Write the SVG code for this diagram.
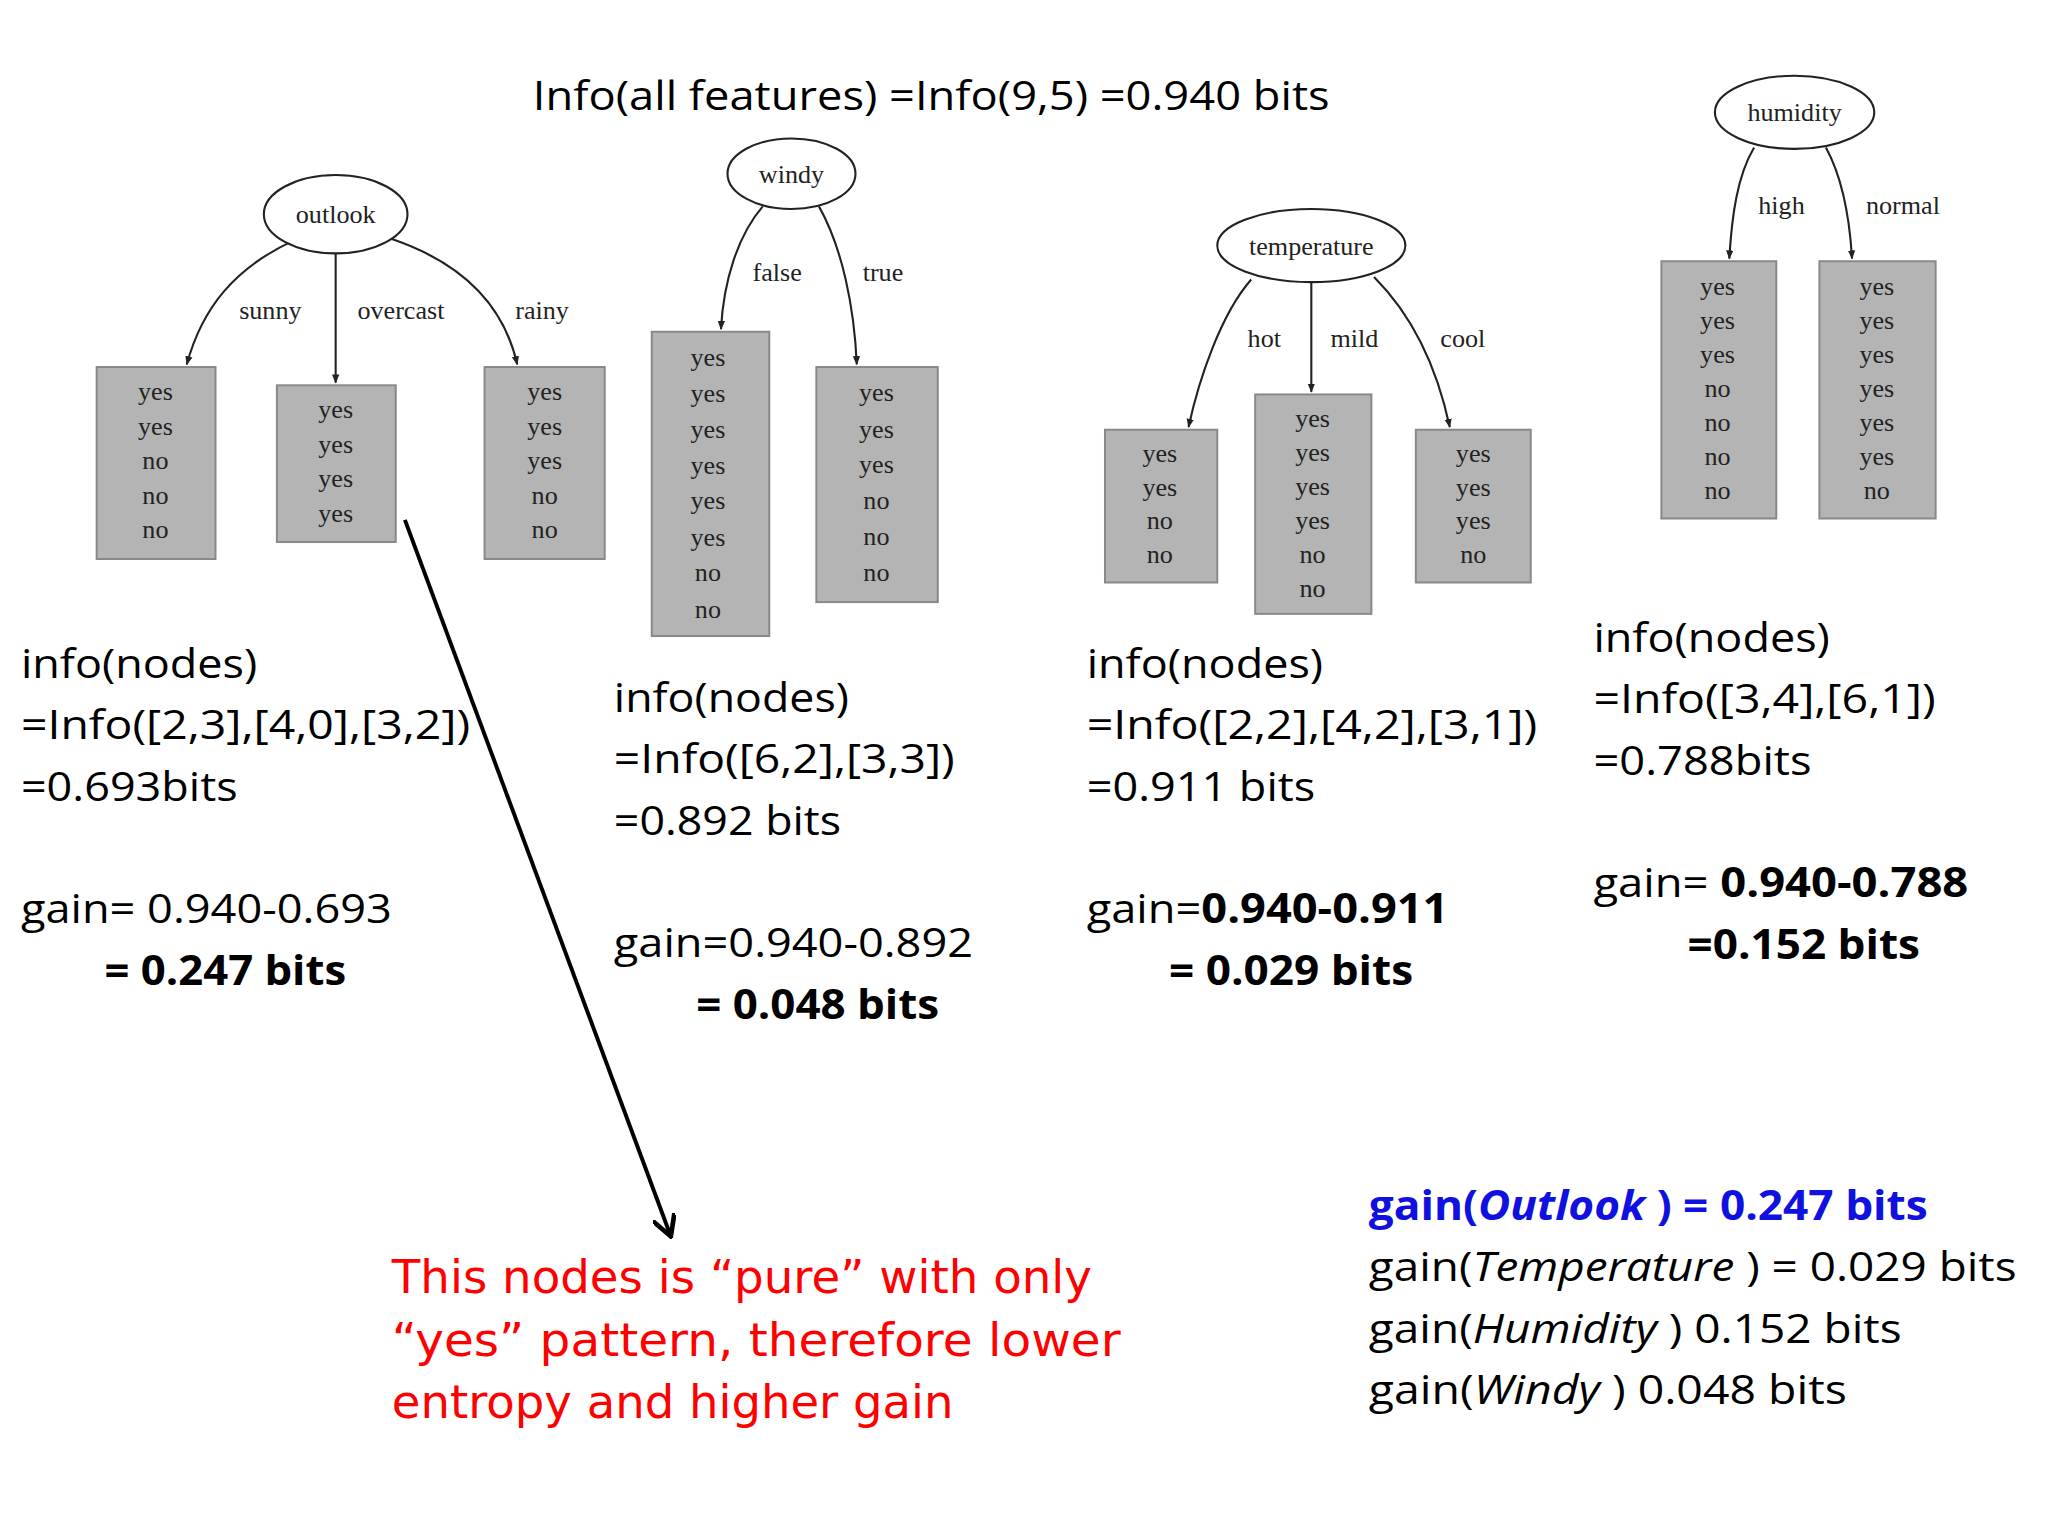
<svg xmlns="http://www.w3.org/2000/svg" width="2048" height="1536" viewBox="0 0 2048 1536">
<defs>
<marker id="ah" viewBox="0 0 10 10" refX="9" refY="5" markerWidth="7" markerHeight="7" orient="auto-start-reverse" markerUnits="userSpaceOnUse"><path d="M0,1 L10,5 L0,9 z" fill="#222"/></marker>
<marker id="ah2" viewBox="0 0 10 10" refX="8" refY="5" markerWidth="18" markerHeight="18" orient="auto" markerUnits="userSpaceOnUse"><path d="M0,0 L9,5 L0,10" fill="none" stroke="#000" stroke-width="2"/></marker>
</defs>
<style>
.ell{fill:#fff;stroke:#222;stroke-width:1.6}
.box{fill:#b4b4b4;stroke:#888;stroke-width:1.5}
.t{font-family:"Liberation Serif",serif;font-size:20px;fill:#222;text-anchor:middle}
.e{fill:none;stroke:#222;stroke-width:1.6}
.c{font-family:"Open Sans","Liberation Sans",sans-serif;font-size:31px;fill:#000}
.b{font-weight:bold}
.r{font-family:"DejaVu Sans",sans-serif;font-size:35px;fill:#ff0000}
.bl{fill:#1010e0;font-weight:bold}
</style>
<rect width="2048" height="1536" fill="#fff"/>
<g transform="scale(1.3061)">
<text class="c" x="408" y="84" textLength="610" lengthAdjust="spacingAndGlyphs">Info(all features) =Info(9,5) =0.940 bits</text>

<g id="connectors">
<path class="e" marker-end="url(#ah)" d="M225,184 C180,205 155,235 143,279"/>
<path class="e" marker-end="url(#ah)" d="M257,194 L257,293"/>
<path class="e" marker-end="url(#ah)" d="M300,183 C350,200 385,230 396,279"/>
<path class="e" marker-end="url(#ah)" d="M584,158 C565,180 554,215 552,252"/>
<path class="e" marker-end="url(#ah)" d="M627,158 C645,190 654,235 656,279"/>
<path class="e" marker-end="url(#ah)" d="M958,214 C935,240 918,290 910,327"/>
<path class="e" marker-end="url(#ah)" d="M1004,216 L1004,300"/>
<path class="e" marker-end="url(#ah)" d="M1052,212 C1080,240 1100,280 1110,327"/>
<path class="e" marker-end="url(#ah)" d="M1343,113 C1330,135 1326,165 1324,198"/>
<path class="e" marker-end="url(#ah)" d="M1398,113 C1410,135 1416,165 1418,198"/>
<path marker-end="url(#ah2)" d="M310,398 L513,945" stroke="#000" stroke-width="3" fill="none"/>
</g>

<g id="outlook"><ellipse class="ell" cx="257" cy="164" rx="55" ry="30"/><text class="t" x="257" y="171">outlook</text>
<text class="t" x="207" y="244">sunny</text><text class="t" x="307" y="244">overcast</text><text class="t" x="415" y="244">rainy</text></g>
<g id="sunny"><rect class="box" x="74" y="281" width="91" height="147"/><text class="t" x="119" y="306">yes</text><text class="t" x="119" y="333">yes</text><text class="t" x="119" y="359">no</text><text class="t" x="119" y="386">no</text><text class="t" x="119" y="412">no</text></g>
<g id="overcast"><rect class="box" x="212" y="295" width="91" height="120"/><text class="t" x="257" y="320">yes</text><text class="t" x="257" y="347">yes</text><text class="t" x="257" y="373">yes</text><text class="t" x="257" y="400">yes</text></g>
<g id="rainy"><rect class="box" x="371" y="281" width="92" height="147"/><text class="t" x="417" y="306">yes</text><text class="t" x="417" y="333">yes</text><text class="t" x="417" y="359">yes</text><text class="t" x="417" y="386">no</text><text class="t" x="417" y="412">no</text></g>

<g id="windy"><ellipse class="ell" cx="606" cy="133" rx="49" ry="27"/><text class="t" x="606" y="140">windy</text>
<text class="t" x="595" y="215">false</text><text class="t" x="676" y="215">true</text></g>
<g id="false"><rect class="box" x="499" y="254" width="90" height="233"/>
<text class="t" x="542" y="280">yes</text><text class="t" x="542" y="308">yes</text><text class="t" x="542" y="335">yes</text><text class="t" x="542" y="363">yes</text><text class="t" x="542" y="390">yes</text><text class="t" x="542" y="418">yes</text><text class="t" x="542" y="445">no</text><text class="t" x="542" y="473">no</text></g>
<g id="true"><rect class="box" x="625" y="281" width="93" height="180"/>
<text class="t" x="671" y="307">yes</text><text class="t" x="671" y="335">yes</text><text class="t" x="671" y="362">yes</text><text class="t" x="671" y="390">no</text><text class="t" x="671" y="417">no</text><text class="t" x="671" y="445">no</text></g>

<g id="temperature"><ellipse class="ell" cx="1004" cy="188" rx="72" ry="28"/><text class="t" x="1004" y="195">temperature</text>
<text class="t" x="968" y="266">hot</text><text class="t" x="1037" y="266">mild</text><text class="t" x="1120" y="266">cool</text></g>
<g id="hot"><rect class="box" x="846" y="329" width="86" height="117"/><text class="t" x="888" y="354">yes</text><text class="t" x="888" y="380">yes</text><text class="t" x="888" y="405">no</text><text class="t" x="888" y="431">no</text></g>
<g id="mild"><rect class="box" x="961" y="302" width="89" height="168"/><text class="t" x="1005" y="327">yes</text><text class="t" x="1005" y="353">yes</text><text class="t" x="1005" y="379">yes</text><text class="t" x="1005" y="405">yes</text><text class="t" x="1005" y="431">no</text><text class="t" x="1005" y="457">no</text></g>
<g id="cool"><rect class="box" x="1084" y="329" width="88" height="117"/><text class="t" x="1128" y="354">yes</text><text class="t" x="1128" y="380">yes</text><text class="t" x="1128" y="405">yes</text><text class="t" x="1128" y="431">no</text></g>

<g id="humidity"><ellipse class="ell" cx="1374" cy="86" rx="61" ry="28"/><text class="t" x="1374" y="93">humidity</text>
<text class="t" x="1364" y="164">high</text><text class="t" x="1457" y="164">normal</text></g>
<g id="high"><rect class="box" x="1272" y="200" width="88" height="197"/><text class="t" x="1315" y="226">yes</text><text class="t" x="1315" y="252">yes</text><text class="t" x="1315" y="278">yes</text><text class="t" x="1315" y="304">no</text><text class="t" x="1315" y="330">no</text><text class="t" x="1315" y="356">no</text><text class="t" x="1315" y="382">no</text></g>
<g id="normal"><rect class="box" x="1393" y="200" width="89" height="197"/><text class="t" x="1437" y="226">yes</text><text class="t" x="1437" y="252">yes</text><text class="t" x="1437" y="278">yes</text><text class="t" x="1437" y="304">yes</text><text class="t" x="1437" y="330">yes</text><text class="t" x="1437" y="356">yes</text><text class="t" x="1437" y="382">no</text></g>

<g id="calc1">
<text class="c" x="16" y="519" textLength="181" lengthAdjust="spacingAndGlyphs">info(nodes)</text>
<text class="c" x="16" y="566" textLength="344" lengthAdjust="spacingAndGlyphs">=Info([2,3],[4,0],[3,2])</text>
<text class="c" x="16" y="613" textLength="166" lengthAdjust="spacingAndGlyphs">=0.693bits</text>
<text class="c" x="16" y="707" textLength="284" lengthAdjust="spacingAndGlyphs">gain= 0.940-0.693</text>
<text class="c b" x="80" y="754" textLength="185" lengthAdjust="spacingAndGlyphs">= 0.247 bits</text>
</g>
<g id="calc2">
<text class="c" x="470" y="545" textLength="180" lengthAdjust="spacingAndGlyphs">info(nodes)</text>
<text class="c" x="470" y="592" textLength="261" lengthAdjust="spacingAndGlyphs">=Info([6,2],[3,3])</text>
<text class="c" x="470" y="639" textLength="174" lengthAdjust="spacingAndGlyphs">=0.892 bits</text>
<text class="c" x="470" y="733" textLength="275" lengthAdjust="spacingAndGlyphs">gain=0.940-0.892</text>
<text class="c b" x="533" y="780" textLength="186" lengthAdjust="spacingAndGlyphs">= 0.048 bits</text>
</g>
<g id="calc3">
<text class="c" x="832" y="519" textLength="181" lengthAdjust="spacingAndGlyphs">info(nodes)</text>
<text class="c" x="832" y="566" textLength="345" lengthAdjust="spacingAndGlyphs">=Info([2,2],[4,2],[3,1])</text>
<text class="c" x="832" y="613" textLength="175" lengthAdjust="spacingAndGlyphs">=0.911 bits</text>
<text class="c" x="832" y="707" textLength="277" lengthAdjust="spacingAndGlyphs">gain=<tspan class="b">0.940-0.911</tspan></text>
<text class="c b" x="895" y="754" textLength="187" lengthAdjust="spacingAndGlyphs">= 0.029 bits</text>
</g>
<g id="calc4">
<text class="c" x="1220" y="499" textLength="181" lengthAdjust="spacingAndGlyphs">info(nodes)</text>
<text class="c" x="1220" y="546" textLength="262" lengthAdjust="spacingAndGlyphs">=Info([3,4],[6,1])</text>
<text class="c" x="1220" y="593" textLength="167" lengthAdjust="spacingAndGlyphs">=0.788bits</text>
<text class="c" x="1220" y="687" textLength="287" lengthAdjust="spacingAndGlyphs">gain= <tspan class="b">0.940-0.788</tspan></text>
<text class="c b" x="1292" y="734" textLength="178" lengthAdjust="spacingAndGlyphs">=0.152 bits</text>
</g>

<g id="note">
<text class="r" x="300" y="990" textLength="536" lengthAdjust="spacingAndGlyphs">This nodes is “pure” with only</text>
<text class="r" x="300" y="1038" textLength="558" lengthAdjust="spacingAndGlyphs">“yes” pattern, therefore lower</text>
<text class="r" x="300" y="1086" textLength="430" lengthAdjust="spacingAndGlyphs">entropy and higher gain</text>
</g>
<g id="summary">
<text class="c bl" x="1048" y="934" textLength="428" lengthAdjust="spacingAndGlyphs">gain(<tspan font-style="italic">Outlook</tspan> ) = 0.247 bits</text>
<text class="c" x="1048" y="981" textLength="496" lengthAdjust="spacingAndGlyphs">gain(<tspan font-style="italic">Temperature</tspan> ) = 0.029 bits</text>
<text class="c" x="1048" y="1028" textLength="408" lengthAdjust="spacingAndGlyphs">gain(<tspan font-style="italic">Humidity</tspan> ) 0.152 bits</text>
<text class="c" x="1048" y="1075" textLength="366" lengthAdjust="spacingAndGlyphs">gain(<tspan font-style="italic">Windy</tspan> ) 0.048 bits</text>
</g>
</g>
</svg>
